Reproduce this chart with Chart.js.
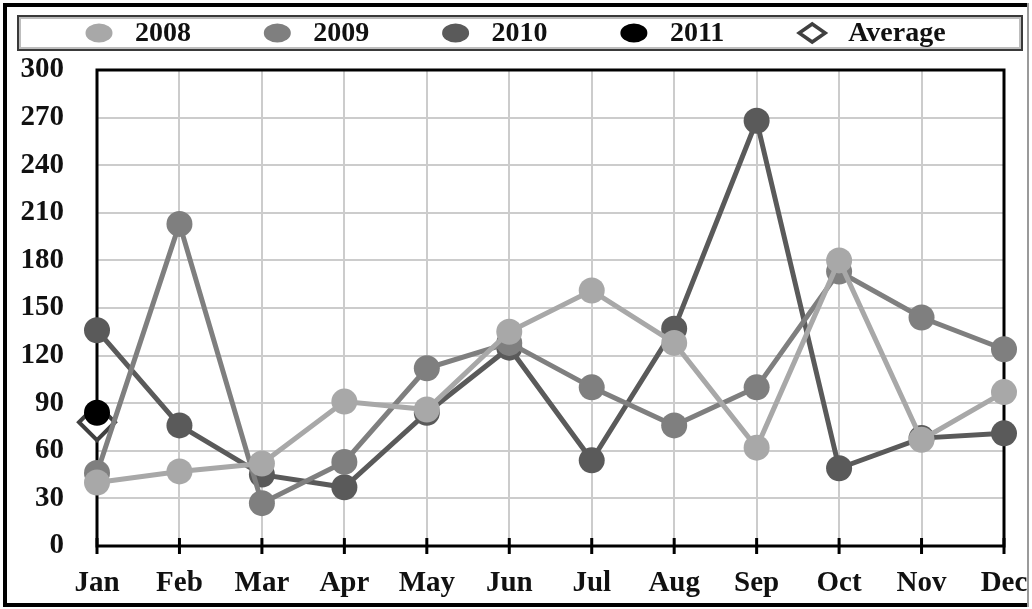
<!DOCTYPE html>
<html>
<head>
<meta charset="utf-8">
<script src="https://cdn.jsdelivr.net/npm/chart.js@4"></script>
<style>
    html, body { margin: 0; padding: 0; background: #fff; }
    #wrap { width: 1032px; height: 609px; position: relative; }
</style>
</head>
<body>
<div id="wrap"><canvas id="chart"></canvas></div>
<script>
// Datos
const months = ['Jan', 'Feb', 'Mar', 'Apr', 'May', 'Jun', 'Jul', 'Aug', 'Sep', 'Oct', 'Nov', 'Dec'];
const values2008 = [40, 47, 52, 91, 86, 135, 161, 128, 62, 180, 67, 97];
const values2009 = [46, 203, 27, 53, 112, 128, 100, 76, 100, 173, 144, 124];
const values2010 = [136, 76, 45, 37, 84, 125, 54, 137, 268, 49, 68, 71];
const values2011 = [84];
const valuesAverage = [78];
const yTickValues = [0, 30, 60, 90, 120, 150, 180, 210, 240, 270, 300];

const FONT = '"Liberation Serif", "Times New Roman", serif';

const colors = {
    y2008: '#a8a8a8',
    y2009: '#7f7f7f',
    y2010: '#5a5a5a',
    y2011: '#000000',
    average: '#404040',
    grid: '#cccccc'
};

// Marcos, ejes y leyenda dibujados a mano
const framePlugin = {
    id: 'frame',
    beforeDatasetsDraw(chart) {
        const ctx = chart.ctx;
        const a = chart.chartArea;
        const x = chart.scales.x;
        ctx.save();
        ctx.strokeStyle = '#000';
        ctx.lineWidth = 3;
        ctx.strokeRect(a.left, a.top, a.right - a.left, a.bottom - a.top);
        // marcas del eje x
        x.ticks.forEach(function(t, i) {
            const px = x.getPixelForTick(i);
            ctx.beginPath();
            ctx.moveTo(px, a.bottom - 8);
            ctx.lineTo(px, a.bottom + 8);
            ctx.stroke();
        });
        ctx.restore();
    },
    afterDraw(chart) {
        const ctx = chart.ctx;
        ctx.save();
        // borde exterior
        ctx.fillStyle = '#000';
        ctx.fillRect(3, 3, 1026, 4);
        ctx.fillRect(3, 3, 4, 604);
        ctx.fillRect(3, 603, 1026, 4);
        ctx.fillStyle = '#9a9a9a';
        ctx.fillRect(1027, 3, 2, 604);

        // caja de la leyenda
        ctx.lineWidth = 2;
        ctx.strokeStyle = '#3a3a3a';
        ctx.strokeRect(18, 16, 1004, 34);
        ctx.strokeStyle = '#bdbdbd';
        ctx.strokeRect(20, 18, 1000, 30);

        // leyenda
        const startX = 99;
        const step = 178.3;
        const cy = 33;
        ctx.font = 'bold 28px ' + FONT;
        ctx.textAlign = 'left';
        ctx.textBaseline = 'middle';
        chart.data.datasets.forEach(function(ds, i) {
            const cx = startX + step * i;
            ctx.beginPath();
            if (ds.pointStyle === 'rectRot') {
                ctx.moveTo(cx - 13, cy);
                ctx.lineTo(cx, cy - 9);
                ctx.lineTo(cx + 13, cy);
                ctx.lineTo(cx, cy + 9);
                ctx.closePath();
                ctx.fillStyle = '#fff';
                ctx.fill();
                ctx.lineWidth = 3.5;
                ctx.strokeStyle = ds.borderColor;
                ctx.stroke();
            } else {
                ctx.ellipse(cx, cy, 13.5, 9.5, 0, 0, Math.PI * 2);
                ctx.fillStyle = ds.pointBackgroundColor;
                ctx.fill();
            }
            ctx.fillStyle = '#111';
            ctx.fillText(ds.label, cx + 36, cy + 1);
        });
        ctx.restore();
    }
};

function lineSet(label, data, color) {
    return {
        label: label,
        data: data,
        borderColor: color,
        backgroundColor: color,
        pointBackgroundColor: color,
        pointBorderColor: color,
        borderWidth: 5,
        pointRadius: 13,
        pointBorderWidth: 0,
        pointStyle: 'circle',
        tension: 0
    };
}

new Chart(document.getElementById('chart'), {
    type: 'line',
    data: {
        labels: months,
        datasets: [
            lineSet('2008', values2008, colors.y2008),
            lineSet('2009', values2009, colors.y2009),
            lineSet('2010', values2010, colors.y2010),
            lineSet('2011', values2011, colors.y2011),
            {
                label: 'Average',
                data: valuesAverage,
                borderColor: colors.average,
                backgroundColor: '#fff',
                pointBackgroundColor: '#fff',
                pointBorderColor: colors.average,
                pointStyle: 'rectRot',
                pointRadius: 18,
                pointBorderWidth: 4,
                borderWidth: 4,
                showLine: false
            }
        ]
    },
    options: {
        responsive: true,
        maintainAspectRatio: false,
        animation: false,
        layout: {
            padding: { top: 70, left: 18, right: 28, bottom: 0 }
        },
        plugins: {
            legend: { display: false },
            tooltip: { enabled: false }
        },
        scales: {
            x: {
                afterFit: function(scale) {
                    scale.height = 63;
                    scale.paddingLeft = 0;
                    scale.paddingRight = 0;
                },
                grid: {
                    color: colors.grid,
                    lineWidth: 2,
                    drawTicks: false
                },
                border: { display: false },
                ticks: {
                    padding: 20,
                    color: '#111',
                    maxRotation: 0,
                    autoSkip: false,
                    font: { family: FONT, size: 29, weight: 'bold' }
                }
            },
            y: {
                min: 0,
                max: 300,
                afterBuildTicks: function(scale) {
                    scale.ticks = yTickValues.map(function(v) { return { value: v }; });
                },
                afterFit: function(scale) {
                    scale.width = 79;
                },
                grid: {
                    color: colors.grid,
                    lineWidth: 2,
                    drawTicks: false
                },
                border: { display: false },
                ticks: {
                    padding: 33,
                    color: '#111',
                    font: { family: FONT, size: 29, weight: 'bold' }
                }
            }
        }
    },
    plugins: [framePlugin]
});
</script>
</body>
</html>
